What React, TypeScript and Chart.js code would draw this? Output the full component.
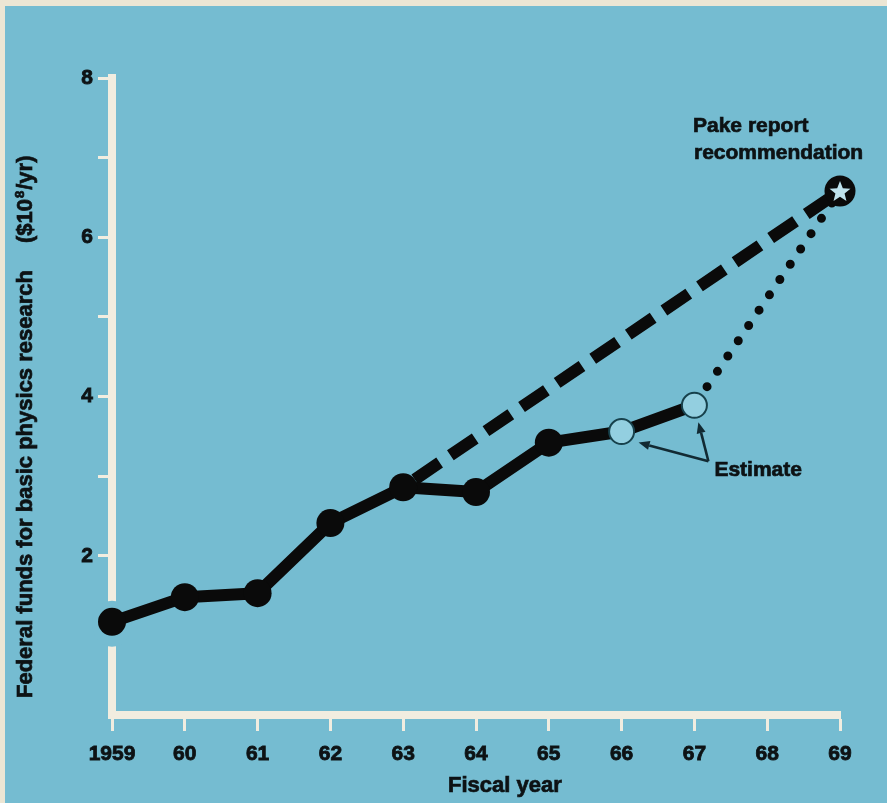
import React, { useEffect, useRef } from 'react';
import { Chart, registerables } from 'chart.js';

Chart.register(...registerables);

// ---- data ----
const years = [1959, 1960, 1961, 1962, 1963, 1964, 1965, 1966, 1967];
const funds = [1.17, 1.48, 1.53, 2.41, 2.86, 2.8, 3.42, 3.56, 3.89];
const firstEstimateIndex = 7; // 1966 and 1967 are estimates
const dashedStartIndex = 4; // dashed projection starts at 1963
const pakeYear = 1969;
const pakeValue = 6.58;
const xTickValues = [1959, 1960, 1961, 1962, 1963, 1964, 1965, 1966, 1967, 1968, 1969];
const xTickLabels = ['1959', '60', '61', '62', '63', '64', '65', '66', '67', '68', '69'];
const yTickValues = [0, 1, 2, 3, 4, 5, 6, 7, 8];
const yTickLabels = ['', '', '2', '', '4', '', '6', '', '8'];
const yTitle = 'Federal funds for basic physics research';
const yUnitPre = '($10';
const yUnitSup = '8';
const yUnitPost = '/yr)';
const xTitle = 'Fiscal year';
const pakeLines = ['Pake report', 'recommendation'];
const estimateLabel = 'Estimate';

// ---- style ----
const BG = '#75bcd1';
const CREAM = '#f1ede0';
const INK = '#0d1214';
const FONT = "'Liberation Sans', Arial, sans-serif";

function boldText(ctx: CanvasRenderingContext2D, t: string, x: number, y: number) {
  ctx.fillText(t, x, y);
  ctx.strokeText(t, x, y);
}

function drawArrow(ctx: CanvasRenderingContext2D, x1: number, y1: number, x2: number, y2: number) {
  const ang = Math.atan2(y2 - y1, x2 - x1);
  const head = 11;
  const bx = x2 - Math.cos(ang) * head;
  const by = y2 - Math.sin(ang) * head;
  ctx.beginPath();
  ctx.moveTo(x1, y1);
  ctx.lineTo(bx, by);
  ctx.stroke();
  ctx.beginPath();
  ctx.moveTo(x2, y2);
  ctx.lineTo(bx + Math.cos(ang + Math.PI / 2) * 4.5, by + Math.sin(ang + Math.PI / 2) * 4.5);
  ctx.lineTo(bx + Math.cos(ang - Math.PI / 2) * 4.5, by + Math.sin(ang - Math.PI / 2) * 4.5);
  ctx.closePath();
  ctx.fill();
}

const decorPlugin = {
  id: 'decor',
  beforeDraw(chart: any) {
    const { ctx, width, height } = chart;
    ctx.save();
    ctx.fillStyle = BG;
    ctx.fillRect(0, 0, width, height);
    ctx.fillStyle = '#ece6d4';
    ctx.fillRect(0, 0, width, 6);
    ctx.fillRect(0, 0, 5, height);
    ctx.restore();
  },
  beforeDatasetsDraw(chart: any) {
    const { ctx, scales } = chart;
    const x = scales.x.getPixelForValue(years[0]);
    const y = scales.y.getPixelForValue(funds[0]);
    ctx.save();
    ctx.fillStyle = BG;
    ctx.beginPath();
    ctx.ellipse(x, y + 2, 20, 23, 0, 0, Math.PI * 2);
    ctx.fill();
    ctx.restore();
  },
  afterDatasetsDraw(chart: any) {
    const { ctx, scales } = chart;
    const sx = scales.x;
    const sy = scales.y;
    ctx.save();
    // star inside Pake marker
    const px = sx.getPixelForValue(pakeYear);
    const py = sy.getPixelForValue(pakeValue);
    ctx.fillStyle = '#bfe2ec';
    ctx.beginPath();
    for (let i = 0; i < 10; i++) {
      const r = i % 2 === 0 ? 11 : 4.8;
      const a = -Math.PI / 2 + (i * Math.PI) / 5;
      const xx = px + Math.cos(a) * r;
      const yy = py + 1 + Math.sin(a) * r;
      if (i === 0) ctx.moveTo(xx, yy);
      else ctx.lineTo(xx, yy);
    }
    ctx.closePath();
    ctx.fill();

    ctx.fillStyle = INK;
    ctx.strokeStyle = INK;
    ctx.lineWidth = 0.7;
    ctx.font = `bold 21px ${FONT}`;
    ctx.textAlign = 'left';
    ctx.textBaseline = 'alphabetic';
    boldText(ctx, pakeLines[0], 693, 132);
    boldText(ctx, pakeLines[1], 694, 159);

    // estimate annotation
    const e1x = sx.getPixelForValue(years[firstEstimateIndex]);
    const e1y = sy.getPixelForValue(funds[firstEstimateIndex]);
    const e2x = sx.getPixelForValue(years[firstEstimateIndex + 1]);
    const e2y = sy.getPixelForValue(funds[firstEstimateIndex + 1]);
    boldText(ctx, estimateLabel, e2x + 20, e2y + 71);
    const jx = e2x + 14;
    const jy = e2y + 56;
    ctx.strokeStyle = '#122a33';
    ctx.fillStyle = '#122a33';
    ctx.lineWidth = 2.6;
    drawArrow(ctx, jx, jy, e1x + 17, e1y + 11);
    drawArrow(ctx, jx, jy, e2x + 4, e2y + 17);

    // axis titles
    ctx.fillStyle = INK;
    ctx.strokeStyle = INK;
    ctx.lineWidth = 0.7;
    ctx.font = `bold 22px ${FONT}`;
    boldText(ctx, xTitle, 448, 792);

    ctx.save();
    ctx.translate(32, 698);
    ctx.rotate(-Math.PI / 2);
    boldText(ctx, yTitle, 0, 0);
    let off = 455;
    boldText(ctx, yUnitPre, off, 0);
    off += ctx.measureText(yUnitPre).width + 1;
    ctx.font = `bold 13px ${FONT}`;
    boldText(ctx, yUnitSup, off, -8);
    off += ctx.measureText(yUnitSup).width + 1;
    ctx.font = `bold 22px ${FONT}`;
    boldText(ctx, yUnitPost, off, 0);
    ctx.restore();

    ctx.restore();
  },
};

export default function App() {
  const canvasRef = useRef<HTMLCanvasElement | null>(null);

  useEffect(() => {
    const canvas = canvasRef.current;
    if (!canvas) return;
    const estimatePoint = (i: number) => i >= firstEstimateIndex;
    const chart = new Chart(canvas, {
      type: 'line',
      data: {
        datasets: [
          {
            label: 'Federal funds',
            data: years.map((yr, i) => ({ x: yr, y: funds[i] })),
            borderColor: '#0a0a0a',
            borderWidth: 12,
            borderJoinStyle: 'round',
            borderCapStyle: 'round',
            tension: 0,
            clip: false,
            order: 1,
            pointRadius: (c: any) => (estimatePoint(c.dataIndex) ? 12.5 : 14),
            pointBackgroundColor: (c: any) => (estimatePoint(c.dataIndex) ? '#93cfe0' : '#0a0a0a'),
            pointBorderColor: (c: any) => (estimatePoint(c.dataIndex) ? '#17414c' : '#0a0a0a'),
            pointBorderWidth: (c: any) => (estimatePoint(c.dataIndex) ? 2 : 0),
          } as any,
          {
            label: 'Projection',
            data: [
              { x: years[dashedStartIndex], y: funds[dashedStartIndex] },
              { x: pakeYear, y: pakeValue },
            ],
            borderColor: '#0a0a0a',
            borderWidth: 12,
            borderDash: [30, 13],
            borderDashOffset: -14,
            borderCapStyle: 'butt',
            pointRadius: 0,
            clip: false,
            order: 2,
          } as any,
          {
            label: 'Estimate projection',
            data: [
              { x: years[years.length - 1], y: funds[funds.length - 1] },
              { x: pakeYear, y: pakeValue },
            ],
            borderColor: '#0a0a0a',
            borderWidth: 9,
            borderDash: [0, 18.5],
            borderDashOffset: -4,
            borderCapStyle: 'round',
            pointRadius: 0,
            clip: false,
            order: 3,
          } as any,
          {
            label: 'Pake report recommendation',
            data: [{ x: pakeYear, y: pakeValue }],
            showLine: false,
            pointRadius: 15.5,
            pointBackgroundColor: '#0a0a0a',
            pointBorderWidth: 0,
            clip: false,
            order: 0,
          } as any,
        ],
      },
      options: {
        responsive: false,
        devicePixelRatio: 1,
        animation: false,
        layout: { padding: { left: 0, right: 47, top: 78, bottom: 0 } },
        plugins: { legend: { display: false }, tooltip: { enabled: false } },
        scales: {
          x: {
            type: 'linear',
            min: xTickValues[0],
            max: xTickValues[xTickValues.length - 1],
            afterFit: (s: any) => {
              s.height = 88;
            },
            afterBuildTicks: (s: any) => {
              s.ticks = xTickValues.map((v) => ({ value: v }));
            },
            border: { display: true, color: CREAM, width: 8 },
            grid: {
              drawOnChartArea: false,
              drawTicks: true,
              tickLength: 16,
              tickWidth: 3,
              tickColor: CREAM,
            },
            ticks: {
              autoSkip: false,
              maxRotation: 0,
              padding: 11,
              color: INK,
              textStrokeColor: INK,
              textStrokeWidth: 0.8,
              font: { family: FONT, size: 21, weight: 'bold' },
              callback: (_v: any, i: number) => xTickLabels[i],
            },
          } as any,
          y: {
            type: 'linear',
            min: yTickValues[0],
            max: yTickValues[yTickValues.length - 1],
            afterFit: (s: any) => {
              s.width = 112;
            },
            afterBuildTicks: (s: any) => {
              s.ticks = yTickValues.map((v) => ({ value: v }));
            },
            border: { display: true, color: CREAM, width: 8 },
            grid: {
              drawOnChartArea: false,
              drawTicks: true,
              tickLength: 14,
              tickWidth: 3,
              tickColor: (c: any) => (c.tick && c.tick.value === 0 ? 'rgba(0,0,0,0)' : CREAM),
            },
            ticks: {
              autoSkip: false,
              padding: 5,
              color: INK,
              textStrokeColor: INK,
              textStrokeWidth: 0.8,
              font: { family: FONT, size: 21, weight: 'bold' },
              callback: (_v: any, i: number) => yTickLabels[i],
            },
          } as any,
        },
      },
      plugins: [decorPlugin],
    } as any);
    return () => chart.destroy();
  }, []);

  return (
    <div style={{ position: 'fixed', left: 0, top: 0, width: 887, height: 803 }}>
      <canvas ref={canvasRef} width={887} height={803} style={{ display: 'block' }} />
    </div>
  );
}
